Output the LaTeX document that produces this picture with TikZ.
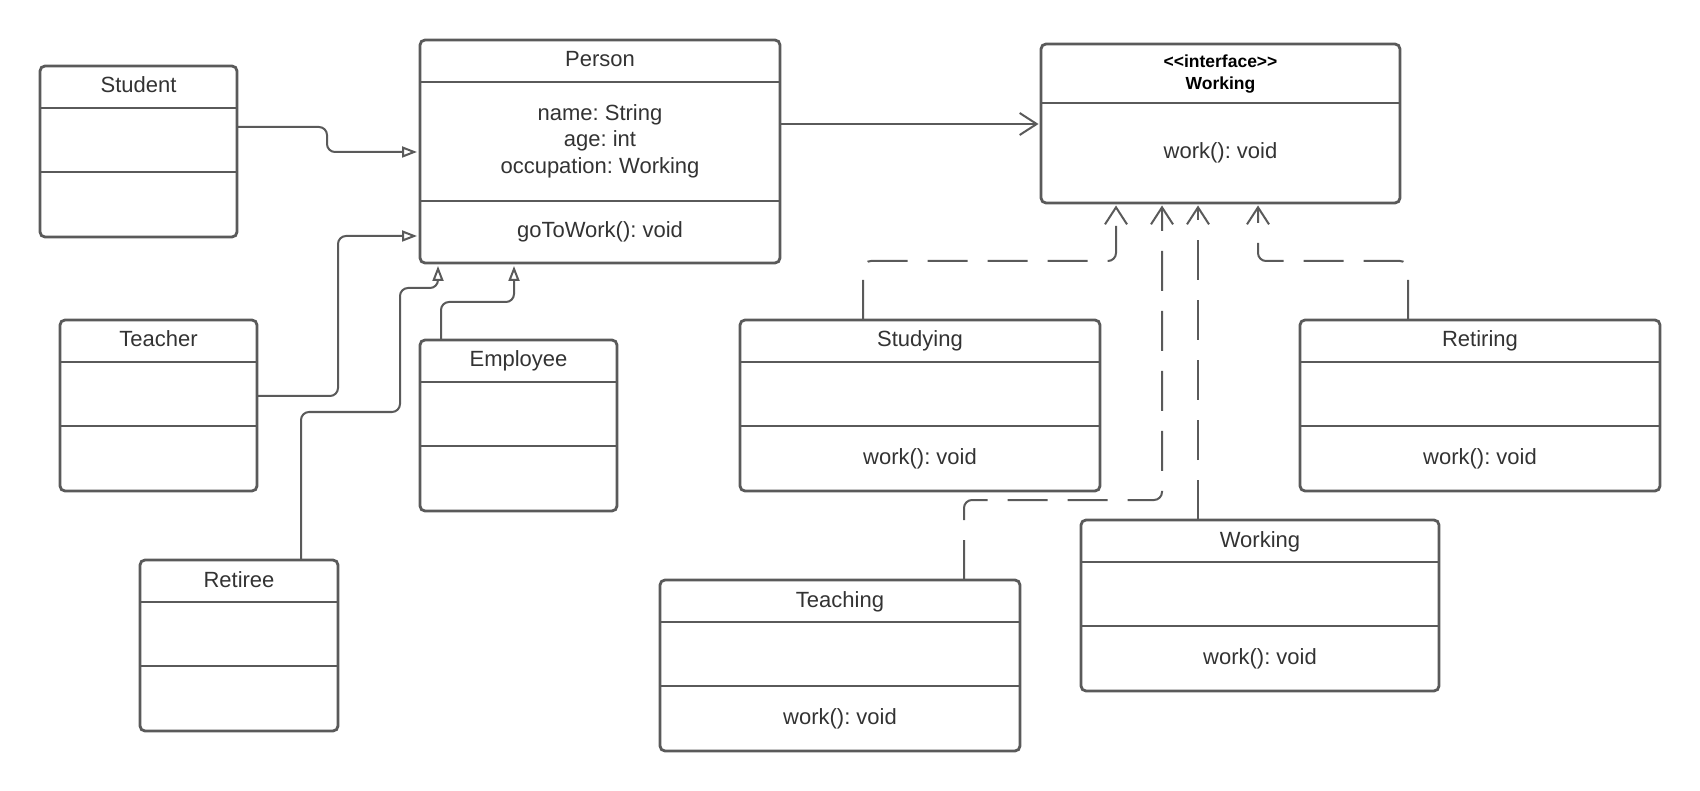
\documentclass[tikz,border=0pt]{standalone}
\usepackage{fontspec}
\setmainfont{Liberation Sans}
\newfontfamily\stereofont{Liberation Sans}[Ligatures=TeXOff]
\usepackage{tikz}
\usepackage{xcolor}
\usetikzlibrary{arrows.meta}
\frenchspacing
\definecolor{linegray}{HTML}{5A5A5A}
\definecolor{textgray}{HTML}{333333}
\tikzset{
    class-box/.style = {draw=linegray, fill=white, line width=2.8pt, rectangle, rounded corners=5pt, anchor=north west, minimum height=171pt, inner sep=0pt, outer sep=0pt},
    class-sep/.style = {draw=linegray, line width=2.8pt},
    class-text/.style = {text=textgray, font=\fontsize{22}{26}\selectfont, anchor=base, inner sep=0pt},
    stereo-text/.style = {text=black, font=\stereofont\bfseries\fontsize{17.5}{21}\selectfont, anchor=base, inner sep=0pt},
    extends/.style = {draw=linegray, line width=2pt, rounded corners=8pt, shorten >=3pt, -{Triangle[open, length=15pt, width=11pt, fill=white]}},
    uses/.style = {draw=linegray, line width=2pt, shorten >=2.5pt, -{Straight Barb[length=17pt, width=22pt]}},
    implements/.style = {uses, rounded corners=8pt, dash pattern=on 40pt off 20pt},
}
\newcommand{\classframe}[3]{%
    \node[class-box, minimum width=#3] (#1) at (#2) {};
    \draw[class-sep] ([yshift=-42pt]#1.north west) -- ([yshift=-42pt]#1.north east);
    \draw[class-sep] ([yshift=-106pt]#1.north west) -- ([yshift=-106pt]#1.north east);
}

\begin{document}
\begin{tikzpicture}[x=1pt, y=-1pt]
\useasboundingbox (0,0) rectangle (1700,791);

\node[class-box, minimum width=360pt, minimum height=223pt] (person) at (420,40) {};
\draw[class-sep] ([yshift=-42pt]person.north west) -- ([yshift=-42pt]person.north east);
\draw[class-sep] ([yshift=-161pt]person.north west) -- ([yshift=-161pt]person.north east);
\node[class-text] (person-title) at ([yshift=-27pt]person.north) {Person};
\node[class-text] (person-name) at ([yshift=-81pt]person.north) {name: String};
\node[class-text] (person-age) at ([yshift=-107pt]person.north) {age: int};
\node[class-text] (person-occ) at ([yshift=-134pt]person.north) {occupation: Working};
\node[class-text] (person-ops) at ([yshift=-198pt]person.north) {goToWork(): void};

\node[class-box, minimum width=359pt, minimum height=159pt] (iface) at (1041,44) {};
\draw[class-sep] ([yshift=-59pt]iface.north west) -- ([yshift=-59pt]iface.north east);
\node[stereo-text] (iface-stereo) at ([yshift=-24pt]iface.north) {<<interface>>};
\node[stereo-text] (iface-title) at ([yshift=-46pt]iface.north) {Working};
\node[class-text] (iface-ops) at ([yshift=-115pt]iface.north) {work(): void};

\classframe{student}{40,66}{197pt}
\classframe{teacher}{60,320}{197pt}
\classframe{employee}{420,340}{197pt}
\classframe{retiree}{140,560}{198pt}
\classframe{studying}{740,320}{360pt}
\classframe{retiring}{1300,320}{360pt}
\classframe{teaching}{660,580}{360pt}
\classframe{working}{1081,520}{358pt}

\node[class-text] (student-title) at ([yshift=-27pt]student.north) {Student};
\node[class-text] (teacher-title) at ([yshift=-27pt]teacher.north) {Teacher};
\node[class-text] (employee-title) at ([yshift=-27pt]employee.north) {Employee};
\node[class-text] (retiree-title) at ([yshift=-27pt]retiree.north) {Retiree};
\node[class-text] (studying-title) at ([yshift=-27pt]studying.north) {Studying};
\node[class-text] (retiring-title) at ([yshift=-27pt]retiring.north) {Retiring};
\node[class-text] (teaching-title) at ([yshift=-27pt]teaching.north) {Teaching};
\node[class-text] (working-title) at ([yshift=-27pt]working.north) {Working};
\node[class-text] (studying-ops) at ([yshift=-144pt]studying.north) {work(): void};
\node[class-text] (retiring-ops) at ([yshift=-144pt]retiring.north) {work(): void};
\node[class-text] (teaching-ops) at ([yshift=-144pt]teaching.north) {work(): void};
\node[class-text] (working-ops) at ([yshift=-144pt]working.north) {work(): void};

\draw[extends] (student.east |- 0,127) -| (327,152) -- (person.west |- 0,152);
\draw[extends] (teacher.east |- 0,396) -| (338,236) -- (person.west |- 0,236);
\draw[extends] (retiree.north -| 301,0) |- (400,412) |- (438,288) -- (person.south -| 438,0);
\draw[extends] (employee.north -| 441,0) |- (514,302) -- (person.south -| 514,0);
\draw[uses] (person.east |- 0,124) -- (iface.west |- 0,124);
\draw[implements] (studying.north -| 863,0) |- (1116,261) -- (iface.south -| 1116,0);
\draw[implements] (teaching.north -| 964,0) |- (1162,500) -- (iface.south -| 1162,0);
\draw[implements] (working.north -| 1198,0) -- (iface.south -| 1198,0);
\draw[implements] (retiring.north -| 1408,0) |- (1258,261) -- (iface.south -| 1258,0);
\end{tikzpicture}
\end{document}
